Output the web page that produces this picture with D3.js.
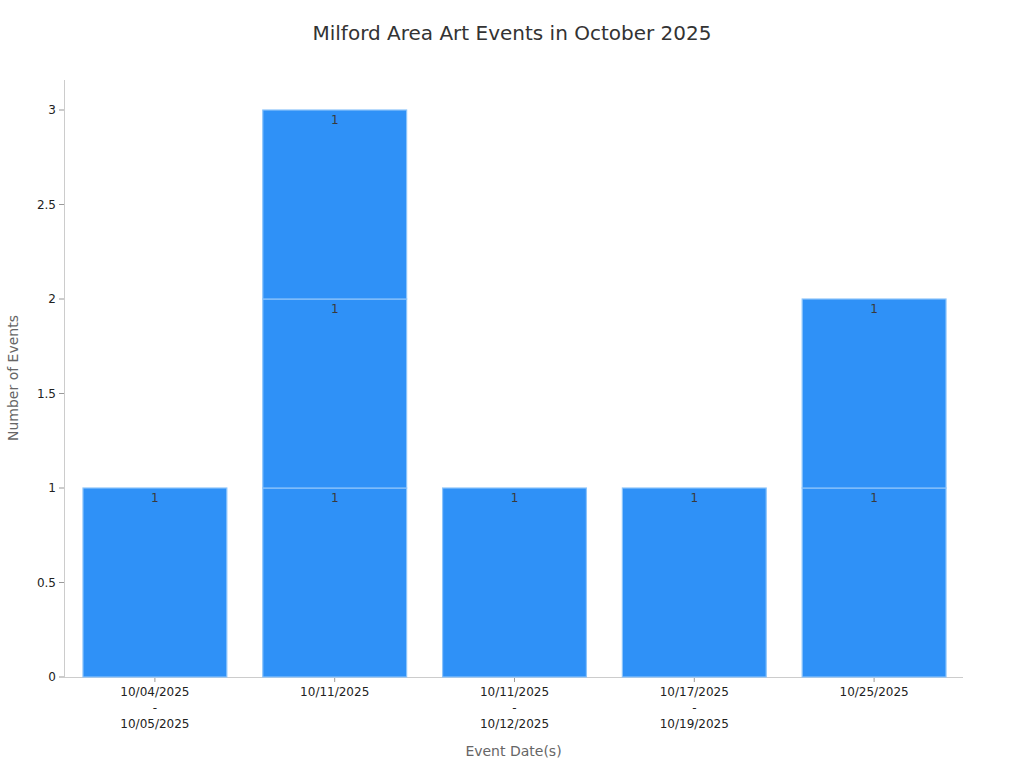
<!DOCTYPE html>
<html>
<head>
<meta charset="utf-8">
<script src="https://cdn.jsdelivr.net/npm/d3@7"></script>
<style>
  body { margin: 0; background: #fff; }
  svg { display: block; font-family: "DejaVu Sans", sans-serif; }
</style>
</head>
<body>
<svg id="chart" width="1024" height="768"></svg>
<script>
const categories = ["10/04/2025\n-\n10/05/2025", "10/11/2025", "10/11/2025\n-\n10/12/2025", "10/17/2025\n-\n10/19/2025", "10/25/2025"];
const event1 = [1, 1, 1, 1, 1];
const event2 = [0, 1, 0, 0, 1];
const event3 = [0, 1, 0, 0, 0];
const yTicks = [0, 0.5, 1, 1.5, 2, 2.5, 3];
const yTickLabels = ["0", "0.5", "1", "1.5", "2", "2.5", "3"];
const titleText = "Milford Area Art Events in October 2025";
const xTitle = "Event Date(s)";
const yTitle = "Number of Events";

(function () {
const svg = d3.select("#chart");
const mLeft = 64, mRight = 963, mBottom = 677, mTop = 80;

const x = d3.scaleBand().domain(d3.range(categories.length)).range([mLeft + 1, mRight + 1]).paddingInner(0.2).paddingOuter(0.1);
const y = d3.scaleLinear().domain([0, 3]).range([mBottom, 110]);

const seriesList = [event1, event2, event3];
const segs = [];
categories.forEach((c, i) => {
  let base = 0;
  seriesList.forEach(s => {
    if (s[i] > 0) {
      segs.push({ i, y0: base, y1: base + s[i], v: s[i] });
      base += s[i];
    }
  });
});

svg.append("text").attr("x", 512).attr("y", 40).attr("text-anchor", "middle")
  .attr("font-size", 20).attr("fill", "#333").text(titleText);

svg.append("line").attr("x1", mLeft + 0.5).attr("x2", mLeft + 0.5).attr("y1", mTop).attr("y2", mBottom)
  .attr("stroke", "#ccc").attr("stroke-width", 1);
svg.append("line").attr("x1", mLeft).attr("x2", mRight).attr("y1", mBottom + 0.5).attr("y2", mBottom + 0.5)
  .attr("stroke", "#ccc").attr("stroke-width", 1);

const yg = svg.append("g");
yTicks.forEach((t, k) => {
  yg.append("line").attr("x1", mLeft - 5).attr("x2", mLeft).attr("y1", y(t)).attr("y2", y(t))
    .attr("stroke", "#999");
  yg.append("text").attr("x", mLeft - 8).attr("y", y(t)).attr("dy", "0.35em").attr("text-anchor", "end")
    .attr("font-size", 12).attr("fill", "#222").text(yTickLabels[k]);
});

svg.append("g").selectAll("rect").data(segs).join("rect")
  .attr("x", d => x(d.i)).attr("width", x.bandwidth())
  .attr("y", d => y(d.y1)).attr("height", d => y(d.y0) - y(d.y1))
  .attr("fill", "#2f91f7").attr("stroke", "#8cc4fb").attr("stroke-width", 1.2);

svg.append("g").selectAll("text").data(segs).join("text")
  .attr("x", d => x(d.i) + x.bandwidth() / 2).attr("y", d => y(d.y1) + 14)
  .attr("text-anchor", "middle").attr("font-size", 12).attr("fill", "#3a3a3a")
  .text(d => d.v);

const xg = svg.append("g");
categories.forEach((c, i) => {
  const cx = x(i) + x.bandwidth() / 2;
  xg.append("line").attr("x1", cx).attr("x2", cx).attr("y1", mBottom + 1).attr("y2", mBottom + 5).attr("stroke", "#999");
  const t = xg.append("text").attr("x", cx).attr("y", mBottom + 19).attr("text-anchor", "middle")
    .attr("font-size", 12).attr("fill", "#222");
  c.split("\n").forEach((line, j) => {
    t.append("tspan").attr("x", cx).attr("dy", j === 0 ? 0 : 16).text(line);
  });
});

svg.append("text").attr("x", (mLeft + mRight) / 2).attr("y", 756).attr("text-anchor", "middle")
  .attr("font-size", 14).attr("fill", "#666").text(xTitle);
svg.append("text").attr("transform", "translate(18,378) rotate(-90)").attr("text-anchor", "middle")
  .attr("font-size", 14).attr("fill", "#666").text(yTitle);
})();
</script>
</body>
</html>
